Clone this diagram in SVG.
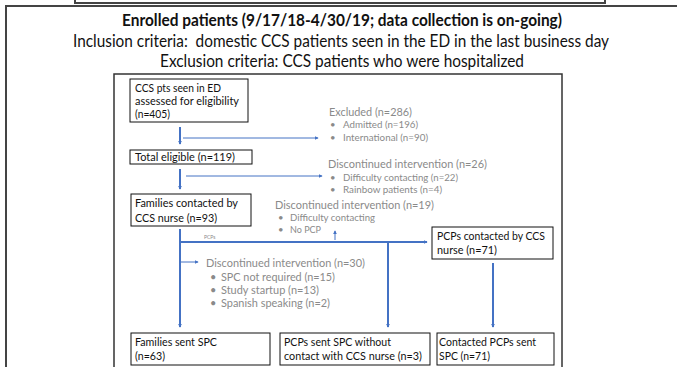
<svg xmlns="http://www.w3.org/2000/svg" width="677" height="367" viewBox="0 0 677 367">
  <defs>
    <marker id="arr" viewBox="0 0 6 6" refX="5" refY="3" markerWidth="4" markerHeight="4" orient="auto" markerUnits="userSpaceOnUse">
      <path d="M0,0 L6,3 L0,6 z" fill="#4472C4"/>
    </marker>
    <style>
      .frame { fill: none; stroke: #444; stroke-width: 2; }
      .inner { fill: none; stroke: #333; stroke-width: 1.5; }
      .box { fill: #fff; stroke: #111; stroke-width: 1; }
      .bt { font-family: Lato, "Liberation Sans", sans-serif; font-size: 11.5px; fill: #111; }
      .gt { font-family: Lato, "Liberation Sans", sans-serif; font-size: 11.5px; fill: #8a8a8a; }
      .gs { font-family: Lato, "Liberation Sans", sans-serif; font-size: 9.5px; fill: #8a8a8a; }
      .gm { font-family: Lato, "Liberation Sans", sans-serif; font-size: 11px; fill: #8a8a8a; }
      .hd { font-family: Lato, "Liberation Sans", sans-serif; font-size: 17px; fill: #111; text-anchor: middle; }
      .ln { fill: none; stroke: #4472C4; stroke-width: 2; }
      .lt { fill: none; stroke: #4472C4; stroke-width: 1; }
    </style>
  </defs>

  <rect width="677" height="367" fill="#fff"/>

  <!-- frames -->
  <rect class="frame" x="75" y="-20" width="530" height="23"/>
  <rect class="frame" x="6" y="6" width="700" height="400"/>
  <rect class="inner" x="114" y="74" width="448" height="320"/>

  <!-- header -->
  <g id="header">
    <text class="hd" x="342" y="26" font-weight="bold" textLength="440" lengthAdjust="spacingAndGlyphs">Enrolled patients (9/17/18-4/30/19; data collection is on-going)</text>
    <text class="hd" x="341" y="47" textLength="536" lengthAdjust="spacingAndGlyphs">Inclusion criteria:&#160; domestic CCS patients seen in the ED in the last business day</text>
    <text class="hd" x="342" y="67" textLength="364" lengthAdjust="spacingAndGlyphs">Exclusion criteria: CCS patients who were hospitalized</text>
  </g>

  <!-- connectors -->
  <g id="connectors">
    <line class="ln" x1="180" y1="127" x2="180" y2="144" marker-end="url(#arr)"/>
    <line class="lt" x1="183" y1="138" x2="318" y2="138" marker-end="url(#arr)"/>
    <line class="ln" x1="180" y1="169" x2="180" y2="189" marker-end="url(#arr)"/>
    <line class="lt" x1="186" y1="176" x2="322" y2="176" marker-end="url(#arr)"/>
    <line class="ln" x1="180" y1="229" x2="180" y2="327" marker-end="url(#arr)"/>
    <line class="ln" x1="180" y1="242" x2="427" y2="242" marker-end="url(#arr)"/>
    <line class="lt" x1="335" y1="240" x2="335" y2="231" marker-end="url(#arr)"/>
    <line class="lt" x1="180" y1="262" x2="198" y2="262" marker-end="url(#arr)"/>
    <line class="ln" x1="388" y1="242" x2="388" y2="327" marker-end="url(#arr)"/>
    <line class="ln" x1="493" y1="263" x2="493" y2="327" marker-end="url(#arr)"/>
  </g>

  <!-- nodes -->
  <g id="n-assessed">
    <rect class="box" x="130" y="79" width="118" height="43"/>
    <text class="bt" x="135" y="92" textLength="86" lengthAdjust="spacingAndGlyphs">CCS pts seen in ED</text>
    <text class="bt" x="135" y="105" textLength="104" lengthAdjust="spacingAndGlyphs">assessed for eligibility</text>
    <text class="bt" x="135" y="118" textLength="35" lengthAdjust="spacingAndGlyphs">(n=405)</text>
  </g>
  <g id="n-eligible">
    <rect class="box" x="130" y="150" width="122" height="14" stroke-width="2"/>
    <text class="bt" x="135" y="161" textLength="100" lengthAdjust="spacingAndGlyphs">Total eligible (n=119)</text>
  </g>
  <g id="n-families-contacted">
    <rect class="box" x="131" y="194" width="120" height="32"/>
    <text class="bt" x="135" y="207" textLength="103" lengthAdjust="spacingAndGlyphs">Families contacted by</text>
    <text class="bt" x="135" y="222" textLength="82" lengthAdjust="spacingAndGlyphs">CCS nurse (n=93)</text>
  </g>
  <g id="n-pcps-contacted">
    <rect class="box" x="432" y="227" width="121" height="32"/>
    <text class="bt" x="437" y="240" textLength="108" lengthAdjust="spacingAndGlyphs">PCPs contacted by CCS</text>
    <text class="bt" x="437" y="254" textLength="60" lengthAdjust="spacingAndGlyphs">nurse (n=71)</text>
  </g>
  <g id="n-families-sent">
    <rect class="box" x="131" y="333" width="139" height="32"/>
    <text class="bt" x="135" y="346" textLength="82" lengthAdjust="spacingAndGlyphs">Families sent SPC</text>
    <text class="bt" x="135" y="360" textLength="30" lengthAdjust="spacingAndGlyphs">(n=63)</text>
  </g>
  <g id="n-pcps-sent">
    <rect class="box" x="280" y="333" width="150" height="32"/>
    <text class="bt" x="284" y="346" textLength="107" lengthAdjust="spacingAndGlyphs">PCPs sent SPC without</text>
    <text class="bt" x="284" y="360" textLength="138" lengthAdjust="spacingAndGlyphs">contact with CCS nurse (n=3)</text>
  </g>
  <g id="n-contacted-sent">
    <rect class="box" x="437" y="333" width="117" height="32"/>
    <text class="bt" x="439" y="346" textLength="97" lengthAdjust="spacingAndGlyphs">Contacted PCPs sent</text>
    <text class="bt" x="439" y="360" textLength="51" lengthAdjust="spacingAndGlyphs">SPC (n=71)</text>
  </g>

  <!-- side notes -->
  <g id="n-excluded">
    <text class="gt" x="329" y="116" textLength="83" lengthAdjust="spacingAndGlyphs">Excluded (n=286)</text>
    <text class="gs" x="330" y="128">•</text>
    <text class="gs" x="343" y="128" textLength="75" lengthAdjust="spacingAndGlyphs">Admitted (n=196)</text>
    <text class="gs" x="330" y="141">•</text>
    <text class="gs" x="343" y="141" textLength="85" lengthAdjust="spacingAndGlyphs">International (n=90)</text>
  </g>
  <g id="n-disc26">
    <text class="gt" x="328" y="168" textLength="159" lengthAdjust="spacingAndGlyphs">Discontinued intervention (n=26)</text>
    <text class="gs" x="330" y="181">•</text>
    <text class="gs" x="343" y="181" textLength="115" lengthAdjust="spacingAndGlyphs">Difficulty contacting (n=22)</text>
    <text class="gs" x="330" y="193">•</text>
    <text class="gs" x="343" y="193" textLength="99" lengthAdjust="spacingAndGlyphs">Rainbow patients (n=4)</text>
  </g>
  <g id="n-disc19">
    <text class="gt" x="275" y="209" textLength="159" lengthAdjust="spacingAndGlyphs">Discontinued intervention (n=19)</text>
    <text class="gs" x="278" y="221">•</text>
    <text class="gs" x="290" y="221" textLength="85" lengthAdjust="spacingAndGlyphs">Difficulty contacting</text>
    <text class="gs" x="278" y="233">•</text>
    <text class="gs" x="290" y="233" textLength="31" lengthAdjust="spacingAndGlyphs">No PCP</text>
  </g>
  <text x="204" y="239" font-family="Lato, 'Liberation Sans', sans-serif" font-size="5" fill="#8a8a8a">PCPs</text>
  <g id="n-disc30">
    <text class="gt" x="206" y="267" textLength="159" lengthAdjust="spacingAndGlyphs">Discontinued intervention (n=30)</text>
    <text class="gm" x="210" y="281">•</text>
    <text class="gm" x="221" y="281" textLength="114" lengthAdjust="spacingAndGlyphs">SPC not required (n=15)</text>
    <text class="gm" x="210" y="294">•</text>
    <text class="gm" x="221" y="294" textLength="98" lengthAdjust="spacingAndGlyphs">Study startup (n=13)</text>
    <text class="gm" x="210" y="307">•</text>
    <text class="gm" x="221" y="307" textLength="109" lengthAdjust="spacingAndGlyphs">Spanish speaking (n=2)</text>
  </g>
</svg>
